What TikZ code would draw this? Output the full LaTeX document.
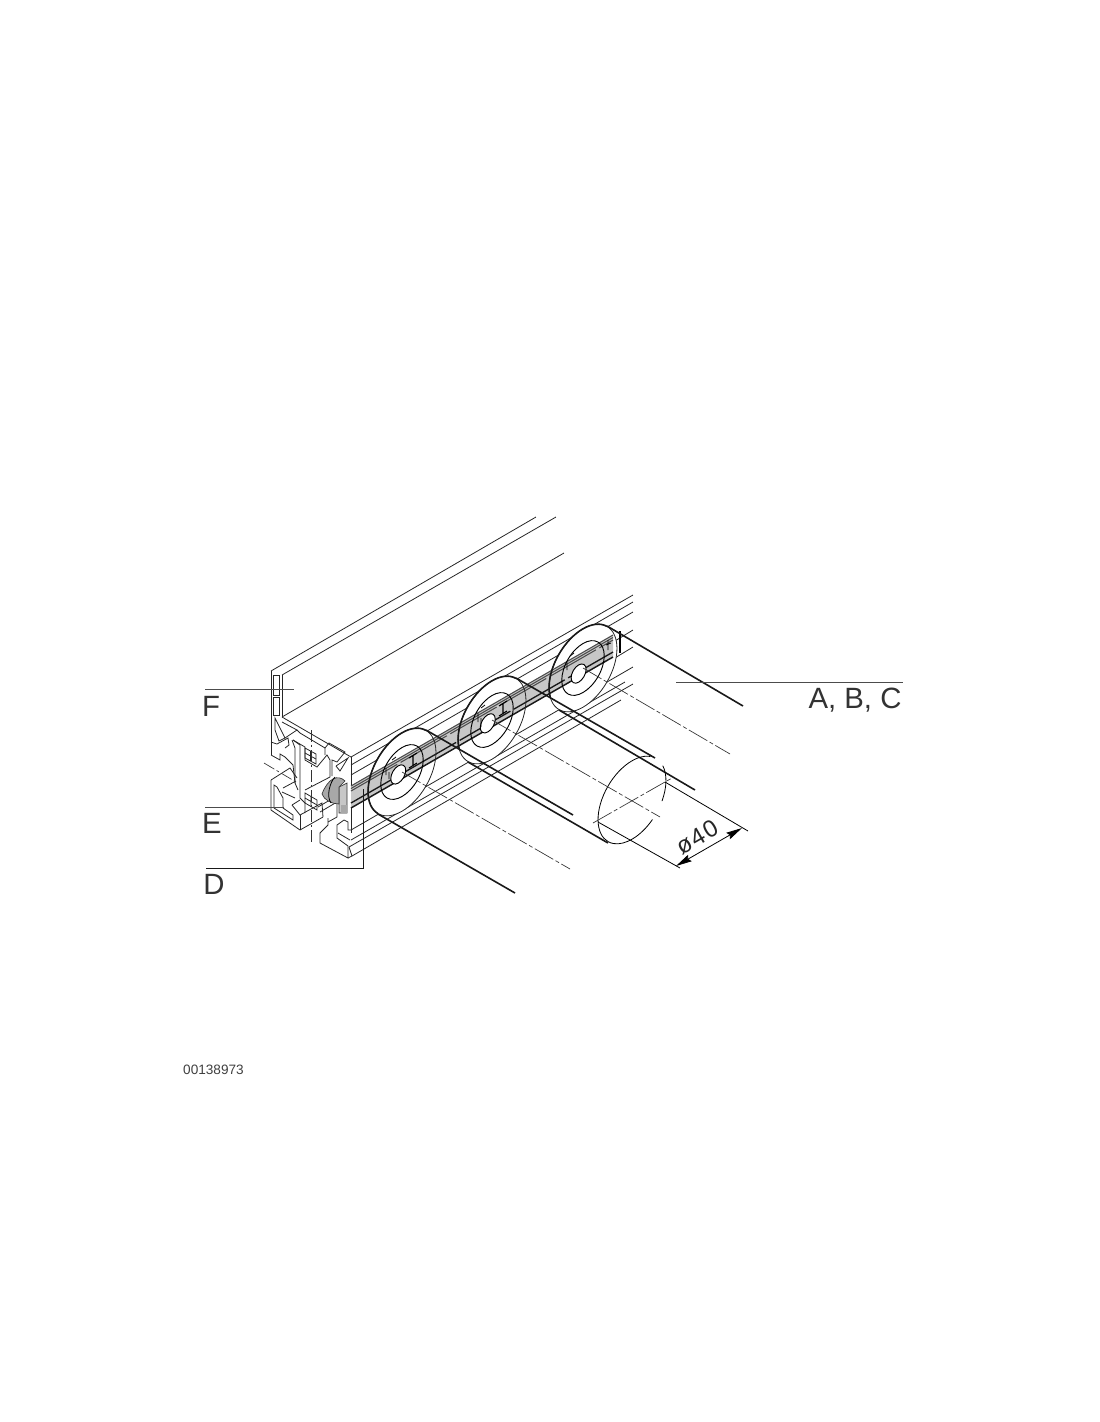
\documentclass[tikz,border=0pt]{standalone}
\usepackage{fontspec}
\setmainfont{Liberation Sans}
\usetikzlibrary{arrows.meta}
\definecolor{bandgray}{gray}{0.78}
\definecolor{capgray}{gray}{0.66}
\tikzset{
thin line/.style={line width=0.6pt, black!85},
bold line/.style={line width=1.2pt, black!90},
leader/.style={line width=0.5pt, black!70},
axis line/.style={line width=0.5pt, black!80, dash pattern=on 16pt off 2pt on 3pt off 2pt},
letter/.style={font=\fontsize{22}{22}\selectfont, text=black!80, inner sep=0pt},
size line/.style={line width=0.6pt, <->, >={Stealth[length=12pt,width=5.5pt,inset=1.5pt]}},
outer/.style={x radius=36pt, y radius=20.8pt},
inner/.style={x radius=22.5pt, y radius=13pt},
hole/.style={x radius=7.9pt, y radius=4.6pt},
}
\begin{document}
\begin{tikzpicture}[x=0.75pt,y=-0.75pt]
    \useasboundingbox (0,0) rectangle (1100,1422);

    \coordinate (c1) at (402,772);
    \coordinate (c2) at (492,720);
    \coordinate (c3) at (583,668);
    \coordinate (c4) at (632,800);

    % long edges of the profile
    \draw[thin line] (271,671) -- (536,517);
    \draw[thin line] (282,675) -- (556,517);
    \draw[thin line] (282,717) -- (564,553);
    \draw[thin line] (351,757) -- (633,595);
    \draw[thin line] (351,765) -- (633,602);
    \draw[thin line] (351,775) -- (633,612);
    \draw[thin line] (610,644) -- (633,630);
    \draw[thin line] (610,661) -- (633,647);
    \draw[thin line] (351,830) -- (633,667);
    \draw[thin line] (351,840) -- (625,682);
    \draw[thin line] (349,847) -- (633,684);
    \draw[thin line] (352,856) -- (621,700);
    \draw[thin line] (351,757) -- (351,833);

    % disks hide the edges behind them
    \fill[white,rotate around={60:(c1)}] (c1) ellipse [outer];
    \fill[white,rotate around={60:(c2)}] (c2) ellipse [outer];
    \fill[white,rotate around={60:(c3)}] (c3) ellipse [outer];

    % groove
    \fill[bandgray] (351,786) -- (613,635) -- (613,657) -- (351,808) -- cycle;
    \draw[line width=0.8pt, black!70] (351,786) -- (613,635);
    \draw[line width=0.8pt, black!70] (351,788.5) -- (613,637.5);
    \draw[line width=0.8pt, black!70, dash pattern=on 40pt off 3pt] (351,791) -- (613,640);
    \draw[line width=1pt, black!90, dash pattern=on 44pt off 3pt] (351,803) -- (613,652);
    \draw[line width=1.1pt, black!90] (351,808) -- (613,657);

    % disks
    \draw[thin line,rotate around={60:(c1)}] (c1) ellipse [outer];
    \draw[thin line,rotate around={60:(c2)}] (c2) ellipse [outer];
    \draw[thin line,rotate around={60:(c3)}] (c3) ellipse [outer];
    \draw[line width=0.7pt,rotate around={60:(c1)}] (c1) ellipse [inner];
    \draw[line width=0.7pt,rotate around={60:(c2)}] (c2) ellipse [inner];
    \draw[line width=0.7pt,rotate around={60:(c3)}] (c3) ellipse [inner];
    \filldraw[fill=white,line width=0.7pt,rotate around={60:(c1)}] (398,770) ellipse [hole];
    \filldraw[fill=white,line width=0.7pt,rotate around={60:(c2)}] (487,718) ellipse [hole];
    \filldraw[fill=white,line width=0.7pt,rotate around={60:(c3)}] (576,667) ellipse [hole];

    % small marks on the disks
    \draw[line width=0.8pt] (409,768) -- (417,763) (413,765) -- (413,755) (409,758) -- (417,753);
    \draw[line width=0.8pt] (499,716) -- (507,711) (503,713) -- (503,703) (499,706) -- (507,701);
    \draw[line width=0.6pt] (608,650) -- (608,640) (606,645) -- (611,643);
    \draw[line width=0.8pt] (620,631) -- (620,653);
    \draw[line width=0.6pt] (392,760) -- (396,757) (386,768) -- (386,775) (389,772) -- (389,779);
    \draw[line width=0.6pt] (481,708) -- (485,705) (478,713) -- (478,722) (481,718) -- (481,727);
    \draw[line width=0.6pt] (570,656) -- (574,653) (567,662) -- (567,670);

    % tube sides
    \draw[bold line,shift={(c1)},rotate=60] (0:36pt and 20.8pt) arc [start angle=0,end angle=180,outer];
    \draw[bold line,shift={(c2)},rotate=60] (0:36pt and 20.8pt) arc [start angle=0,end angle=150,outer];
    \draw[bold line,shift={(c3)},rotate=60] (0:36pt and 20.8pt) arc [start angle=0,end angle=150,outer];
    \coordinate (t1a) at (426,730);
    \coordinate (t1b) at (573,815);
    \coordinate (b1a) at (378,814);
    \coordinate (b1b) at (515,893);
    \coordinate (t2a) at (516,678);
    \coordinate (t2b) at (655,758);
    \coordinate (b2a) at (468,762);
    \coordinate (b2b) at (608,843);
    \coordinate (t3a) at (607,626);
    \coordinate (t3b) at (743,706);
    \coordinate (b3a) at (559,710);
    \coordinate (b3b) at (695,790);
    \draw[bold line] (t1a) -- (t1b);
    \draw[bold line] (b1a) -- (b1b);
    \draw[bold line] (t2a) -- (t2b);
    \draw[bold line] (b2a) -- (b2b);
    \draw[bold line] (t3a) -- (t3b);
    \draw[bold line] (b3a) -- (b3b);

    % end of the tube
    \draw[line width=0.6pt,shift={(c4)},rotate=60] (12:36pt and 20.8pt) arc [start angle=12,end angle=262,outer];
    \draw[line width=0.6pt,shift={(c4)},rotate=60] (-20:36pt and 20.8pt) arc [start angle=-20,end angle=-73,outer];

    % axes
    \coordinate (ax1) at (402,772);
    \coordinate (ax1e) at (570,869);
    \coordinate (ax2) at (492,720);
    \coordinate (ax2e) at (660,817);
    \coordinate (ax3) at (583,668);
    \coordinate (ax3e) at (730,754);
    \coordinate (ax4) at (593,823);
    \coordinate (ax4e) at (672,778);
    \draw[axis line] (ax1) -- (ax1e);
    \draw[axis line] (ax2) -- (ax2e);
    \draw[axis line] (ax3) -- (ax3e);
    \draw[axis line] (ax4) -- (ax4e);

    % size
    \coordinate (ext1) at (665,782);
    \coordinate (ext1e) at (748,831);
    \coordinate (ext2) at (598,822);
    \coordinate (ext2e) at (680,868);
    \coordinate (dim1) at (676,866);
    \coordinate (dim2) at (742,828);
    \draw[line width=0.6pt] (ext1) -- (ext1e);
    \draw[line width=0.6pt] (ext2) -- (ext2e);
    \draw[size line] (dim1) -- (dim2);
    \node[rotate=30,inner sep=0pt,text=black!85,font=\fontsize{18}{18}\selectfont\addfontfeature{LetterSpace=6}] (size) at (697,837) {ø40};

    % end face of the top plate
    \draw[thin line] (271,671) -- (271,755);
    \draw[thin line] (282,675) -- (282,717);
    \draw[thin line] (273,675) rectangle (279,695);
    \draw[thin line] (273,697) rectangle (279,715);
    \draw[thin line] (275,718) -- (285,738) -- (279,741) -- (275,730) -- cycle;
    \draw[thin line] (271,742) -- (277,744) -- (288,738) -- (289,745) -- (285,748);

    % end face of the profile
    \draw[thin line] (282,717) -- (351,757);
    \draw[thin line] (285,738) -- (297,730) -- (300,733) -- (325,748) -- (325,755);
    \draw[thin line] (282,722) -- (297,730);
    \draw[thin line] (325,748) -- (329,743) -- (345,752) -- (337,762) -- (332,760) -- (332,776);
    \draw[thin line] (336,766) -- (348,758) -- (340,771) -- (336,766);
    \draw[thin line] (271,755) -- (280,760) -- (280,754) -- (285,757) -- (293,765) -- (295,783);
    \draw[thin line] (292,740) -- (295,748) -- (295,783) -- (298,790);
    \draw[thin line] (293,740) -- (300,745) -- (300,798) -- (305,803) -- (305,813);
    \draw[thin line] (293,740) -- (305,747) -- (305,760) -- (317,767) -- (327,755) -- (330,760) -- (330,777) -- (305,790);

    % grids in the web
    \draw[thin line] (305,748) -- (316,754) -- (316,764) -- (305,758) -- cycle;
    \draw[thin line] (305,753) -- (316,759) (310.5,751) -- (310.5,761);
    \draw[thin line] (305,793) -- (317,800) -- (317,810) -- (305,803) -- cycle;
    \draw[thin line] (305,798) -- (317,805) (311,796.5) -- (311,806.5);
    \draw[thin line] (318,807) -- (335,797);
    \draw[thin line] (320,812) -- (337,802) -- (337,817) -- (328,822);

    % lower left slot
    \draw[thin line] (271,780) -- (290,768) -- (297,778);
    \draw[thin line] (271,780) -- (271,810) -- (300,830) -- (323,817);
    \draw[thin line] (274,785) -- (274,808) -- (293,820) -- (293,815) -- (283,808) -- (283,798) -- (277,787) -- cycle;
    \draw[thin line] (283,788) -- (296,781);
    \draw[thin line] (282,792) -- (295,798);
    \draw[thin line] (292,805) -- (300,815) -- (322,803) -- (323,817);
    \draw[thin line] (300,815) -- (300,830);
    \draw[thin line] (292,805) -- (300,800);

    % lower right slot
    \draw[thin line] (320,833) -- (328,825) -- (328,818);
    \draw[thin line] (320,833) -- (320,843) -- (348,858) -- (348,846) -- (337,838) -- (337,825) -- (344,820);
    \draw[thin line] (338,833) -- (350,840);
    \draw[thin line] (352,856) -- (348,858);
    \draw[thin line] (349,847) -- (352,856);
    \draw[thin line] (344,820) -- (348,822) -- (348,830) -- (351,830);

    % clamp in the groove
    \filldraw[fill=bandgray,draw=black!80,line width=0.5pt] (339,787) -- (347,783) -- (347,813) -- (339,813) -- cycle;
    \fill[capgray] (341,805) rectangle (347,813);
    \filldraw[fill=capgray,draw=black!80,line width=0.5pt] (345,781) .. controls (338,774) and (328,778) .. (322,794) .. controls (324,800) and (332,804) .. (339,804) -- (339,787) -- cycle;
    \draw[line width=0.6pt] (335,777) .. controls (330,782) and (326,796) .. (331,803);

    % axes in the end face
    \coordinate (ax5) at (311,730);
    \coordinate (ax5e) at (311,843);
    \coordinate (ax6) at (264,763);
    \coordinate (ax6e) at (296,782);
    \draw[axis line,dash pattern=on 9pt off 2pt on 2pt off 2pt] (ax5) -- (ax5e);
    \draw[axis line,dash pattern=on 9pt off 2pt on 2pt off 2pt] (ax6) -- (ax6e);

    % leaders
    \node[letter] (lblF) at (211,706) {F};
    \node[letter] (lblE) at (212,823) {E};
    \node[letter] (lblD) at (214,884) {D};
    \node[letter] (lblABC) at (855,700) {A, B, C};
    \coordinate (ldF) at (205,689);
    \coordinate (ldFe) at (294,689);
    \coordinate (ldE) at (205,807);
    \coordinate (ldEe) at (284,807);
    \coordinate (ldD) at (206,868);
    \coordinate (ldDc) at (363,868);
    \coordinate (ldDe) at (363,789);
    \coordinate (ldA) at (676,682);
    \coordinate (ldAe) at (903,682);
    \draw[leader] (ldF) -- (ldFe);
    \draw[leader] (ldE) -- (ldEe);
    \draw[leader,black!90] (ldD) -- (ldDc) -- (ldDe);
    \draw[leader] (ldA) -- (ldAe);

    \node[inner sep=0pt,text=black!75,font=\fontsize{10.2}{10.2}\selectfont] (code) at (213.5,1069.5) {00138973};
\end{tikzpicture}
\end{document}
